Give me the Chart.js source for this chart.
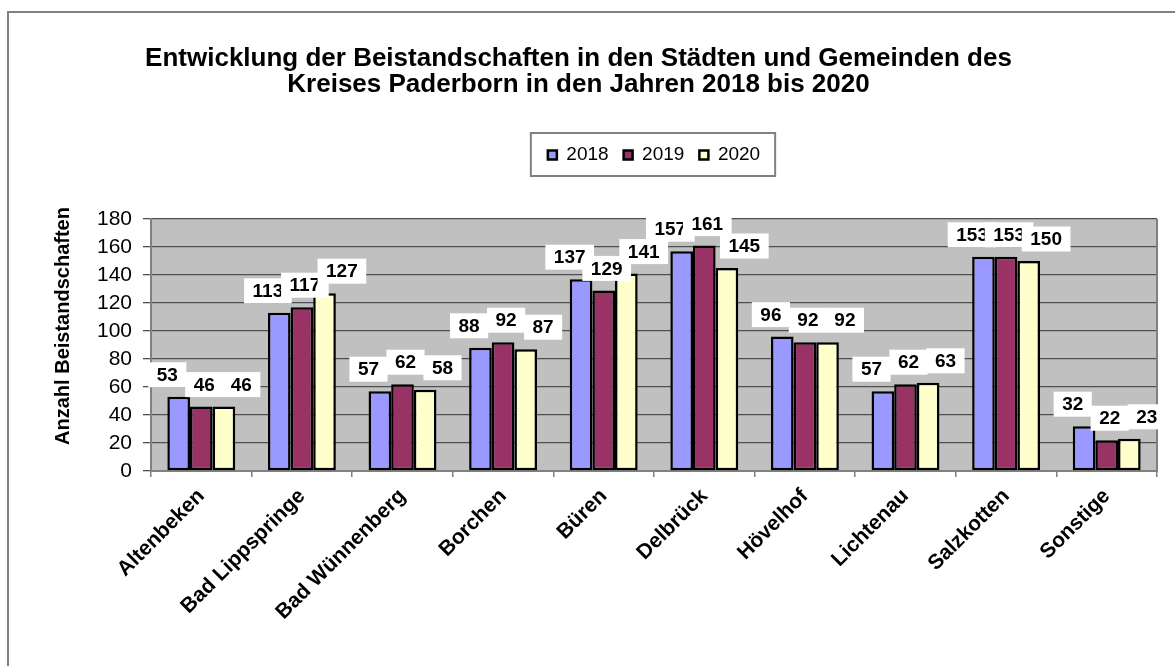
<!DOCTYPE html>
<html>
<head>
<meta charset="utf-8">
<script src="https://cdn.jsdelivr.net/npm/chart.js@4.4.1/dist/chart.umd.min.js"></script>
<style>
html,body{margin:0;padding:0;background:#fff;}
#wrap{position:relative;width:1175px;height:666px;}
</style>
</head>
<body>
<div id="wrap"><canvas id="c" width="1175" height="666"></canvas></div>
<script>
const categories = ['Altenbeken','Bad Lippspringe','Bad Wünnenberg','Borchen','Büren','Delbrück','Hövelhof','Lichtenau','Salzkotten','Sonstige'];
const seriesNames = ['2018','2019','2020'];
const values2018 = [53,113,57,88,137,157,96,57,153,32];
const values2019 = [46,117,62,92,129,161,92,62,153,22];
const values2020 = [46,127,58,87,141,145,92,63,150,23];
const yMin = 0, yMax = 180, yStep = 20;
const titleLines = ['Entwicklung der Beistandschaften in den Städten und Gemeinden des','Kreises Paderborn in den Jahren 2018 bis 2020'];
const yTitle = 'Anzahl Beistandschaften';

const FONT = '"Liberation Sans", Arial, Helvetica, sans-serif';
const colors = ['#9999ff','#993366','#ffffcc'];

const frame = {
  id:'frame',
  beforeDraw(chart){
    const {ctx, chartArea:a} = chart;
    ctx.save();
    ctx.fillStyle = '#ffffff';
    ctx.fillRect(0,0,chart.width,chart.height);
    ctx.strokeStyle = '#808080';
    ctx.lineWidth = 2;
    ctx.strokeRect(8, 12, 1200, 700);
    ctx.fillStyle = '#c0c0c0';
    ctx.fillRect(a.left, a.top, a.right-a.left, a.bottom-a.top);
    ctx.restore();
  },
  beforeDatasetsDraw(chart){
    const {ctx, chartArea:a} = chart;
    ctx.save();
    ctx.strokeStyle = '#808080';
    ctx.lineWidth = 2;
    ctx.beginPath();
    ctx.moveTo(a.right, a.top); ctx.lineTo(a.right, a.bottom + 1);
    ctx.stroke();
    ctx.restore();
  },
  afterDraw(chart){
    const {ctx, chartArea:a} = chart;
    ctx.save();
    // legend border
    const lg = chart.legend;
    if (lg && lg.legendHitBoxes && lg.legendHitBoxes.length){
      const hb = lg.legendHitBoxes;
      const l = hb[0].left - 17;
      const last = hb[hb.length-1];
      const r = last.left + last.width + 15;
      const cy = hb[0].top + hb[0].height/2;
      ctx.strokeStyle = '#808080';
      ctx.lineWidth = 2;
      ctx.strokeRect(l, cy-22, r-l, 43);
    }
    // y axis title
    ctx.translate(63, (a.top + a.bottom)/2 - 19);
    ctx.rotate(-Math.PI/2);
    ctx.font = 'bold 20px ' + FONT;
    ctx.fillStyle = '#000';
    ctx.textAlign = 'center';
    ctx.textBaseline = 'middle';
    ctx.fillText(yTitle, 0, 0);
    ctx.restore();
  }
};

const labelsPlugin = {
  id:'barLabels',
  afterDatasetsDraw(chart){
    const {ctx} = chart;
    const xs = chart.scales.x;
    ctx.save();
    ctx.font = 'bold 19px ' + FONT;
    ctx.textAlign = 'center';
    ctx.textBaseline = 'middle';
    chart.data.datasets.forEach((ds, i) => {
      const meta = chart.getDatasetMeta(i);
      meta.data.forEach((bar, j) => {
        const txt = String(ds.data[j]);
        const cx = xs.getPixelForValue(j) + (i-1)*37 + 3;
        const cy = bar.y - 22;
        const w = ctx.measureText(txt).width + 17;
        const h = 25;
        ctx.fillStyle = '#ffffff';
        ctx.fillRect(cx - w/2, cy - h/2, w, h);
        ctx.fillStyle = '#000000';
        ctx.fillText(txt, cx, cy + 1);
      });
    });
    ctx.restore();
  }
};

new Chart(document.getElementById('c'), {
  type:'bar',
  data:{
    labels: categories,
    datasets:[
      {label:seriesNames[0], data:values2018, backgroundColor:colors[0], borderColor:'#000', borderWidth:2.5, borderSkipped:false},
      {label:seriesNames[1], data:values2019, backgroundColor:colors[1], borderColor:'#000', borderWidth:2.5, borderSkipped:false},
      {label:seriesNames[2], data:values2020, backgroundColor:colors[2], borderColor:'#000', borderWidth:2.5, borderSkipped:false}
    ]
  },
  options:{
    responsive:false,
    animation:false,
    devicePixelRatio:1,
    layout:{padding:{left:0,right:18,top:0,bottom:0}},
    datasets:{bar:{categoryPercentage:0.675, barPercentage:1}},
    plugins:{
      title:{display:true, text:titleLines, color:'#000', font:{family:FONT, size:26, weight:'bold', lineHeight:1.0}, padding:{top:46, bottom:32.5}},
      subtitle:{display:true, text:' ', fullSize:false, weight:500, font:{size:10, lineHeight:1}, padding:{top:34.5, bottom:0}},
      legend:{display:true, position:'top', fullSize:false, labels:{color:'#000', font:{family:FONT, size:19}, boxWidth:9, boxHeight:9, padding:15}},
      tooltip:{enabled:false}
    },
    scales:{
      x:{
        grid:{display:true, drawOnChartArea:false, drawTicks:true, tickLength:6, color:'#808080', lineWidth:1.5, offset:true},
        border:{display:true, color:'#808080', width:2},
        ticks:{color:'#000', font:{family:FONT, size:21, weight:'bold'}, minRotation:45, maxRotation:45, autoSkip:false, padding:7},
        afterFit(s){ s.height = 195; }
      },
      y:{
        min:yMin, max:yMax,
        grid:{color:'#505050', lineWidth:1.3, tickLength:8, drawTicks:true},
        border:{display:true, color:'#808080', width:2},
        ticks:{color:'#000', font:{family:FONT, size:21}, padding:11, stepSize:yStep, autoSkip:false},
        title:{display:false},
        afterFit(s){ s.width = 151; }
      }
    }
  },
  plugins:[frame, labelsPlugin]
});
</script>
</body>
</html>
